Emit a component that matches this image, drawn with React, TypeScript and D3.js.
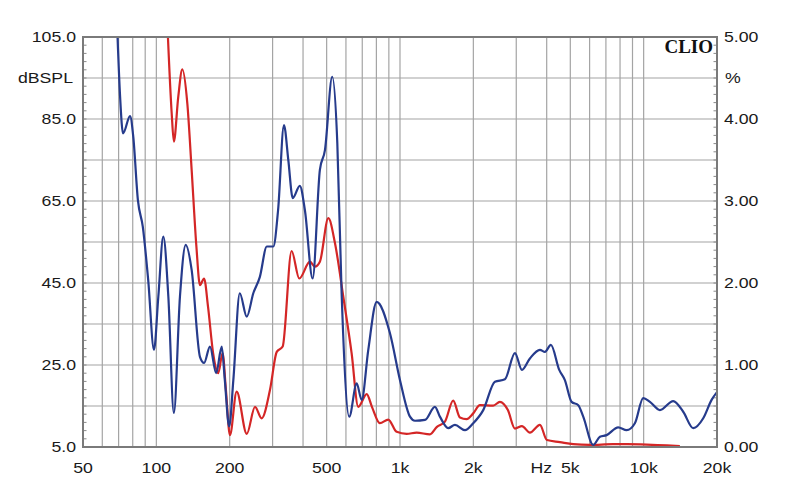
import * as d3 from 'd3';

// values: [frequency Hz, level dB]
const blueCurve: [number, number][] = [
  [69, 108], [71, 90.4], [73, 81.5], [78, 85.7], [80.4, 80.7], [84, 65.2], [88, 58.7],
  [92.6, 45.7], [97.8, 28.7], [101.9, 41.7], [106.8, 56.3], [112, 41.7], [118, 13.3],
  [125, 41.7], [132, 54.3], [139.6, 48.2], [151, 27], [157, 25.5], [166, 29.5], [176, 23],
  [185.5, 29.5], [191, 21.3], [199, 10], [207, 21.3], [220, 42.5], [235, 36.8], [250, 42.5],
  [266, 46.5], [284, 53.9], [302, 53.9], [316, 62.8], [334, 83.5], [348, 75], [363, 65.7],
  [388, 68.7], [407, 62.8], [438, 46.1], [469, 72.6], [492, 77.4], [527, 95.3], [553, 79.1],
  [576, 42.5], [619, 12.4], [664, 20.5], [696, 16.5], [741, 28.7], [802, 40.4], [909, 32.8],
  [1000, 21.3], [1099, 12.4], [1152, 11.4], [1266, 11.6], [1391, 14.8], [1458, 12.4],
  [1577, 9.6], [1681, 10.4], [1848, 9.1], [1998, 10.8], [2196, 14], [2452, 20.9],
  [2695, 21.5], [2963, 27.9], [3166, 23.8], [3413, 26.6], [3752, 28.7], [3934, 28.2],
  [4162, 29.9], [4503, 23.8], [4750, 21.3], [5061, 16], [5391, 15.2], [5650, 12.4],
  [6208, 5.5], [6617, 7.5], [7046, 7.9], [7865, 9.8], [8511, 9.1], [9205, 10.8],
  [9958, 16.9], [10611, 16], [11662, 14], [13221, 16.2], [14532, 13.6], [15977, 9.6],
  [17560, 12], [19006, 16.5], [20000, 18.4],
];

const redCurve: [number, number][] = [
  [111, 108], [115.6, 86.4], [118, 79.5], [123, 90.4], [127.8, 97.1], [134, 88.8],
  [139.6, 72.6], [146, 53.9], [151, 44.5], [157, 46.1], [163, 39.2], [171, 27.9],
  [179.5, 23], [187, 27.9], [193, 18.9], [200.5, 7.9], [213.6, 18.5], [235, 8.2],
  [254, 14.8], [270.6, 12], [292.6, 18.9], [312, 28.2], [330, 29.5], [359, 52.8],
  [386, 46.1], [427, 50.2], [447, 49], [469, 50.2], [508, 60.8], [541, 54.7], [585, 41.7],
  [633, 27.9], [674, 14.8], [730, 17.9], [767, 14.8], [827, 10.8], [895, 11.7], [969, 8.7],
  [1065, 8.2], [1170, 8.5], [1327, 8.1], [1418, 9.9], [1529, 11.2], [1653, 16.3],
  [1762, 12.2], [1877, 11.8], [1998, 13.2], [2128, 15.2], [2413, 15.1], [2570, 16],
  [2772, 14], [2963, 9.5], [3166, 10.1], [3413, 8.5], [3752, 10.4], [4008, 6.7],
  [4532, 6.2], [5140, 5.7], [6017, 5.5], [7480, 5.7], [8535, 5.7], [10309, 5.6],
  [12454, 5.4], [14081, 5.2],
];

const leftTicks = [105, 85, 65, 45, 25, 5];
const rightTicks = [5, 4, 3, 2, 1, 0];
const xTickValues = [50, 100, 200, 500, 1000, 2000, 5000, 10000, 20000];
const xTickLabels = ['50', '100', '200', '500', '1k', '2k', '5k', '10k', '20k'];

const W = 800;
const H = 504;
const L = 83;
const R = 717;
const T = 37;
const B = 447;

const font = 'Arial, "Liberation Sans", sans-serif';

const Label = ({ x, y, text, anchor }: { x: number; y: number; text: string; anchor: string }) => (
  <text
    transform={`translate(${x},${y}) scale(1.18,1)`}
    textAnchor={anchor}
    dominantBaseline="central"
    fontFamily={font}
    fontSize={15}
    fill="#1a1a1a"
  >
    {text}
  </text>
);

export default function App() {
  const x = d3.scaleLog().domain([50, 20000]).range([L, R]);
  const y = d3.scaleLinear().domain([5, 105]).range([B, T]);
  const yR = d3.scaleLinear().domain([0, 5]).range([B, T]);

  // log grid: 1..9 of each decade
  const vGrid: number[] = [];
  for (let dec = 10; dec <= 10000; dec *= 10) {
    for (let k = 1; k <= 9; k++) {
      const f = k * dec;
      if (f > 50 && f < 20000) vGrid.push(f);
    }
  }
  const hGrid = d3.range(15, 105, 10);
  const minor = d3.range(7, 105, 2);

  const line = d3
    .line<[number, number]>()
    .x((d) => x(d[0]))
    .y((d) => y(d[1]))
    .curve(d3.curveMonotoneX);

  return (
    <svg width={W} height={H} style={{ position: 'absolute', left: 0, top: 0, background: '#fff' }}>
      <defs>
        <clipPath id="plot">
          <rect x={L} y={T} width={R - L} height={B - T} />
        </clipPath>
      </defs>
      <rect x={0} y={0} width={W} height={H} fill="#fff" />
      <g stroke="#a4a4a4" strokeWidth={1.2}>
        {vGrid.map((f) => (
          <line key={'v' + f} x1={x(f)} x2={x(f)} y1={T} y2={B} />
        ))}
        {hGrid.map((v) => (
          <line key={'h' + v} x1={L} x2={R} y1={y(v)} y2={y(v)} />
        ))}
      </g>
      <g stroke="#8a8a8a" strokeWidth={1}>
        {minor.map((v) => (
          <g key={'m' + v}>
            <line x1={L} x2={L + 3.5} y1={y(v)} y2={y(v)} />
            <line x1={R - 3.5} x2={R} y1={y(v)} y2={y(v)} />
          </g>
        ))}
      </g>
      <g clipPath="url(#plot)" fill="none" strokeWidth={2.2} strokeLinejoin="round">
        <path d={line(redCurve) ?? ''} stroke="#d42626" />
        <path d={line(blueCurve) ?? ''} stroke="#263b8c" />
      </g>
      <rect x={L} y={T} width={R - L} height={B - T} fill="none" stroke="#7a7a7a" strokeWidth={2} />
      <text
        x={713}
        y={53}
        textAnchor="end"
        fontFamily='"Liberation Serif", "Times New Roman", serif'
        fontWeight="bold"
        fontSize={19}
        fill="#111"
      >
        CLIO
      </text>
      {leftTicks.map((v) => (
        <Label key={'l' + v} x={76} y={y(v)} text={v.toFixed(1)} anchor="end" />
      ))}
      <Label x={73} y={y(95)} text="dBSPL" anchor="end" />
      {rightTicks.map((v) => (
        <Label key={'r' + v} x={724} y={yR(v)} text={v.toFixed(2)} anchor="start" />
      ))}
      <Label x={725} y={yR(4.5)} text="%" anchor="start" />
      {xTickValues.map((f, i) => (
        <Label key={'x' + f} x={x(f)} y={468} text={xTickLabels[i]} anchor="middle" />
      ))}
      <Label x={x(3800)} y={468} text="Hz" anchor="middle" />
    </svg>
  );
}
